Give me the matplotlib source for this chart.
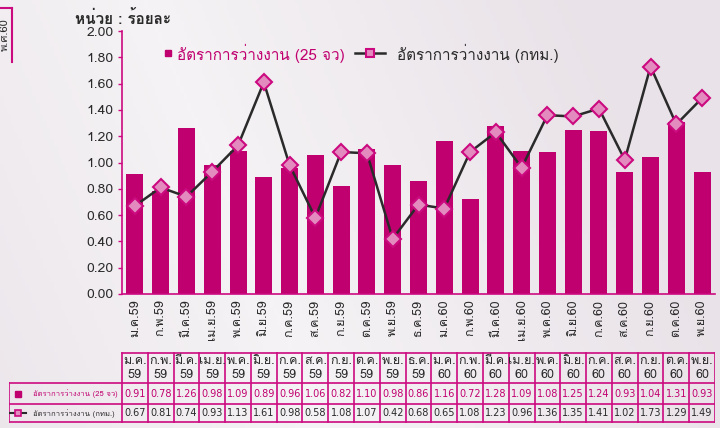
import numpy as np
import matplotlib
matplotlib.use("Agg")
import matplotlib.pyplot as plt
from matplotlib import font_manager
from matplotlib.ft2font import FT2Font
from matplotlib.lines import Line2D
from matplotlib.ticker import FormatStrFormatter
from matplotlib.colors import LinearSegmentedColormap

# data
months = ["ม.ค.", "ก.พ.", "มี.ค.", "เม.ย.", "พ.ค.", "มิ.ย.", "ก.ค.", "ส.ค.", "ก.ย.", "ต.ค.", "พ.ย.", "ธ.ค.",
          "ม.ค.", "ก.พ.", "มี.ค.", "เม.ย.", "พ.ค.", "มิ.ย.", "ก.ค.", "ส.ค.", "ก.ย.", "ต.ค.", "พ.ย."]
years = ["59", "59", "59", "59", "59", "59", "59", "59", "59", "59", "59", "59",
         "60", "60", "60", "60", "60", "60", "60", "60", "60", "60", "60"]
rate_25 = [0.91, 0.78, 1.26, 0.98, 1.09, 0.89, 0.96, 1.06, 0.82, 1.10, 0.98, 0.86,
           1.16, 0.72, 1.28, 1.09, 1.08, 1.25, 1.24, 0.93, 1.04, 1.31, 0.93]
rate_bkk = [0.67, 0.81, 0.74, 0.93, 1.13, 1.61, 0.98, 0.58, 1.08, 1.07, 0.42, 0.68,
            0.65, 1.08, 1.23, 0.96, 1.36, 1.35, 1.41, 1.02, 1.73, 1.29, 1.49]
label_25 = "อัตราการว่างงาน (25 จว)"
label_bkk = "อัตราการว่างงาน (กทม.)"
unit_text = "หน่วย : ร้อยละ"


def find_thai_font():
    # pick any installed font that has thai glyphs
    for f in font_manager.fontManager.ttflist:
        try:
            if 0x0E2D in FT2Font(f.fname).get_charmap():
                return f.name
        except Exception:
            pass
    return "DejaVu Sans"


thai = find_thai_font()
plt.rcParams["font.family"] = [thai, "DejaVu Sans"]

MAG = "#c1006f"
EDGE = "#cc0a80"
PINK = "#e38bbf"
DARK = "#2a2a2a"

fig = plt.figure(figsize=(7.2, 4.28), dpi=100, facecolor="#f0ecef")

# soft background shading
bg = fig.add_axes([0, 0, 1, 1], zorder=-10)
bg.axis("off")
gx, gy = np.meshgrid(np.linspace(0, 1, 200), np.linspace(0, 1, 120))
shade = np.clip(1 - np.abs(gx - 0.45 + 0.25 * gy) * 1.6, 0, 1)
bg_cmap = LinearSegmentedColormap.from_list("bg", ["#e9e2e8", "#f5f3f5"])
bg.imshow(shade, cmap=bg_cmap, aspect="auto", extent=[0, 1, 0, 1], origin="lower")
bg.set_xlim(0, 1)
bg.set_ylim(0, 1)

# plot area: x 122..715 px, y 31..294 px
ax = fig.add_axes([122 / 720, 1 - 294 / 428, 593 / 720, 263 / 428])
ax.set_facecolor("none")
x = np.arange(len(months))
ax.bar(x, rate_25, width=0.66, color=MAG, zorder=2)
ax.plot(x, rate_bkk, color=DARK, lw=1.8, marker="D", ms=8, mfc=PINK, mec=EDGE, mew=1.5, zorder=3)
ax.set_xlim(-0.5, len(months) - 0.5)
ax.set_ylim(0, 2.0)
ax.set_yticks(np.arange(0, 2.01, 0.2))
ax.yaxis.set_major_formatter(FormatStrFormatter("%.2f"))
ax.set_xticks(x)
ax.set_xticklabels([m + y for m, y in zip(months, years)], rotation=90, fontsize=9, color=DARK)
ax.tick_params(axis="x", length=0, pad=4)
ax.tick_params(axis="y", colors=EDGE, length=3, width=1, labelsize=10, labelcolor=DARK, pad=3)
for s in ["top", "right"]:
    ax.spines[s].set_visible(False)
for s in ["left", "bottom"]:
    ax.spines[s].set_color(EDGE)
    ax.spines[s].set_linewidth(1.2)


def axpos(px, py):
    return (px - 122) / 593, (294 - py) / 263


# legend drawn by hand to match the spacing
lx, ly = axpos(168, 53)
ax.plot([lx], [ly], transform=ax.transAxes, ls="none", marker="s", ms=5, color=MAG, clip_on=False)
tx, _ = axpos(177, 53)
ax.text(tx, ly, label_25, transform=ax.transAxes, fontsize=11, color=MAG, va="center")
l0, _ = axpos(355, 53)
l1, _ = axpos(385, 53)
lm, _ = axpos(370, 53)
ax.plot([l0, l1], [ly, ly], transform=ax.transAxes, color=DARK, lw=1.8, clip_on=False)
ax.plot([lm], [ly], transform=ax.transAxes, marker="s", ms=6, mfc=PINK, mec=EDGE, mew=1.5, clip_on=False)
tx2, _ = axpos(397, 53)
ax.text(tx2, ly, label_bkk, transform=ax.transAxes, fontsize=11, color=DARK, va="center")

fig.text(75 / 720, 1 - 18 / 428, unit_text, fontsize=11, color=DARK, fontweight="bold", va="center")

# data table under the chart
step = 593 / len(months)
x_left = -0.5 - (122 - 9) / step
tax = fig.add_axes([9 / 720, 1 - 426 / 428, (715 - 9) / 720, 76 / 428])
tax.set_xlim(x_left, len(months) - 0.5)
tax.set_ylim(426, 350)
tax.axis("off")
y_head, y_r1, y_r2, y_end = 353, 383, 404, 422
lw = 1.2
tax.plot([-0.5, len(months) - 0.5], [y_head, y_head], color=EDGE, lw=lw)
for yy in [y_r1, y_r2, y_end]:
    tax.plot([x_left, len(months) - 0.5], [yy, yy], color=EDGE, lw=lw)
for i in range(len(months) + 1):
    tax.plot([i - 0.5, i - 0.5], [y_head, y_end], color=EDGE, lw=lw)
tax.plot([x_left, x_left], [y_r1, y_end], color=EDGE, lw=lw)
for i in range(len(months)):
    tax.text(i, 361, months[i], ha="center", va="center", fontsize=9, color=DARK)
    tax.text(i, 375, years[i], ha="center", va="center", fontsize=9, color=DARK)
    tax.text(i, (y_r1 + y_r2) / 2, "%.2f" % rate_25[i], ha="center", va="center",
             fontsize=7, color=MAG, family="DejaVu Sans")
    tax.text(i, (y_r2 + y_end) / 2, "%.2f" % rate_bkk[i], ha="center", va="center",
             fontsize=7, color=DARK, family="DejaVu Sans")
xi = x_left + 9 / step
tax.plot([xi], [(y_r1 + y_r2) / 2], ls="none", marker="s", ms=5, color=MAG)
tax.plot([xi - 0.3, xi + 0.3], [(y_r2 + y_end) / 2] * 2, color=DARK, lw=1.5)
tax.plot([xi], [(y_r2 + y_end) / 2], marker="s", ms=5, mfc=PINK, mec=EDGE, mew=1.2)
tax.text(x_left + 24 / step, (y_r1 + y_r2) / 2, label_25, fontsize=5.5, color=MAG, va="center")
tax.text(x_left + 24 / step, (y_r2 + y_end) / 2, label_bkk, fontsize=5.5, color=DARK, va="center")

# side label at the top left, cut by the picture edge as in the original
fig.add_artist(Line2D([12 / 720, 12 / 720], [1 - 8 / 428, 1 - 62 / 428], color=EDGE, lw=1.5))
fig.add_artist(Line2D([0, 12 / 720], [1 - 8 / 428, 1 - 8 / 428], color=EDGE, lw=1.5))
fig.text(5 / 720, 1 - 35 / 428, "พ.ศ.60", rotation=90, fontsize=8, color=DARK, ha="center", va="center")

fig.savefig("out.png", dpi=100, facecolor=fig.get_facecolor())
